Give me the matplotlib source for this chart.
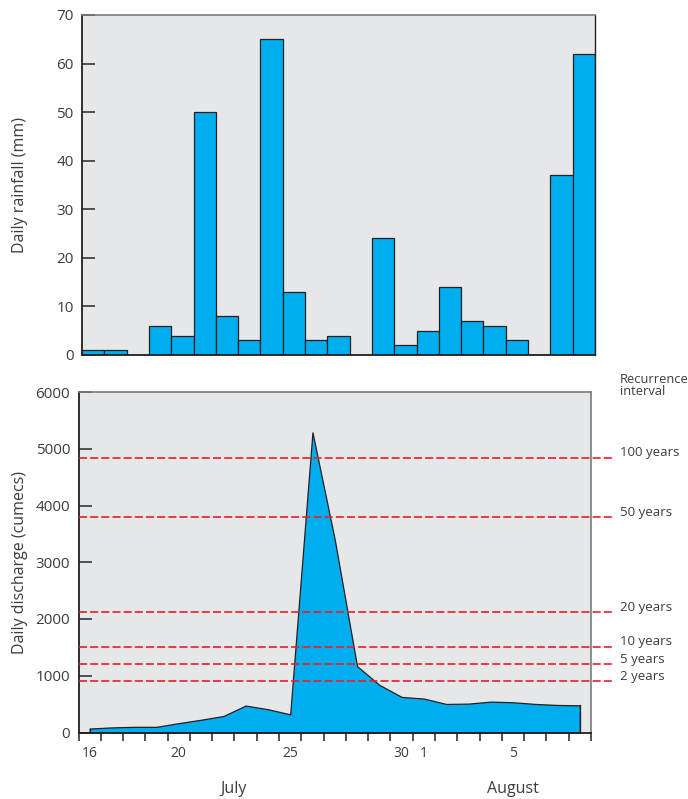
import matplotlib
matplotlib.use("Agg")
import matplotlib.pyplot as plt
import numpy as np

plt.rcParams['font.family'] = ['Open Sans', 'DejaVu Sans']

# daily values, 16 July to early August
rainfall = [1, 1, 0, 6, 4, 50, 8, 3, 65, 13, 3, 4, 0, 24, 2, 5, 14, 7, 6, 3, 0, 37, 62]
discharge = [70, 90, 100, 100, 165, 225, 290, 475, 410, 320, 5290, 3400, 1170,
             840, 627, 598, 503, 509, 544, 533, 503, 485, 479]
day_labels = ['16', '20', '25', '30', '1', '5']
day_label_idx = [0, 4, 9, 14, 15, 19]
month_labels = ['July', 'August']
month_pos = [6.95, 19.5]
recurrence = [4840, 3790, 2120, 1510, 1200, 900]
recurrence_labels = ['100 years', '50 years', '20 years', '10 years', '5 years', '2 years']

blue = '#00aeef'
bg = '#e6e7e9'
dark = '#231f20'
txt = '#3c3c3c'
red = '#ed1c24'

n = len(rainfall)
x = np.arange(n) + 0.5

fig = plt.figure(figsize=(6.88, 7.99), dpi=100)

# top: rainfall bars
ax1 = fig.add_axes([82/688, 1-355/799, 513/688, 340/799])
ax1.set_facecolor(bg)
ax1.bar(x, rainfall, width=1.0, color=blue, edgecolor=dark, linewidth=0.9, zorder=2)
ax1.set_xlim(0, n)
ax1.set_ylim(0, 70)
ax1.set_yticks(range(0, 71, 10))
ax1.set_xticks([])
ax1.tick_params(axis='y', direction='in', length=9.5, width=1.3, color='#444444',
                labelsize=11, labelcolor=txt, pad=6)
ax1.set_ylabel('Daily rainfall (mm)', fontsize=11.5, color=txt)
ax1.yaxis.set_label_coords((28-82)/513, 0.5)
for s in ['left', 'bottom']:
    ax1.spines[s].set_color(dark)
    ax1.spines[s].set_linewidth(1.3)
ax1.spines['top'].set_color('#7a7a7a')
ax1.spines['top'].set_linewidth(1.2)
ax1.spines['right'].set_color(dark)
ax1.spines['right'].set_linewidth(1.0)

# bottom: discharge
ax2 = fig.add_axes([78.5/688, 1-732.5/799, 512.5/688, 340.5/799])
ax2.set_facecolor(bg)
ax2.fill_between(x, discharge, 0, color=blue, edgecolor=dark, linewidth=0.9, zorder=2)
ax2.plot([x[0], x[0]], [0, discharge[0]], color=dark, lw=0.9, zorder=3)
ax2.plot([x[-1], x[-1]], [0, discharge[-1]], color=dark, lw=0.9, zorder=3)
ax2.set_xlim(0, n)
ax2.set_ylim(0, 6000)
ax2.set_yticks(range(0, 6001, 1000))
ax2.tick_params(axis='y', direction='in', length=9.5, width=1.3, color='#444444',
                labelsize=11, labelcolor=txt, pad=6)
ax2.set_xticks(np.arange(0, n + 1))
ax2.set_xticklabels([])
ax2.tick_params(axis='x', which='major', direction='out', length=6, width=1.1, color=dark)
ax2.set_xticks([x[i] for i in day_label_idx], minor=True)
ax2.set_xticklabels(day_labels, minor=True)
ax2.tick_params(axis='x', which='minor', length=0, labelsize=10, labelcolor=txt, pad=10)
ax2.set_ylabel('Daily discharge (cumecs)', fontsize=11.5, color=txt)
ax2.yaxis.set_label_coords((28-78.5)/512.5, 0.5)
for s in ['left', 'bottom']:
    ax2.spines[s].set_color(dark)
    ax2.spines[s].set_linewidth(1.3)
for s in ['top', 'right']:
    ax2.spines[s].set_color('#7a7a7a')
    ax2.spines[s].set_linewidth(1.2)

for m, p in zip(month_labels, month_pos):
    ax2.text(p, -0.166, m, transform=ax2.get_xaxis_transform(), ha='center', va='center',
             fontsize=11.5, color=txt)

# recurrence interval lines
x_end = n + 21/22.27
for v, lab in zip(recurrence, recurrence_labels):
    ax2.plot([0, x_end], [v, v], color=red, lw=1.2, dashes=(4.8, 1.9), zorder=4, clip_on=False)
    ax2.text(n + 29/22.27, v + 90, lab, ha='left', va='center', fontsize=9.5,
             color=txt, clip_on=False)
ax2.text(n + 29/22.27, 6000 + 115, 'Recurrence\ninterval', ha='left', va='center',
         fontsize=9.3, color=txt, linespacing=0.95, clip_on=False)

fig.savefig('out.png', dpi=100)
